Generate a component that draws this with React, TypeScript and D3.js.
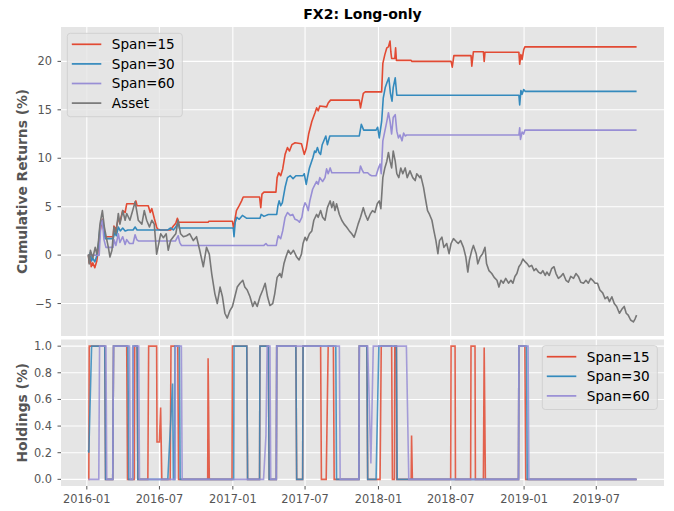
import React from "react";
import * as d3 from "d3";

type Pt = [string, number];

// cumulative returns (%)
const assetReturns: Pt[] = [
  ["2016-01-05", 0.1], ["2016-01-07", -0.9], ["2016-01-10", 0.5], ["2016-01-16", -0.3],
  ["2016-01-22", 0.8], ["2016-01-26", 0.1], ["2016-01-30", 1.35], ["2016-02-03", 3.2],
  ["2016-02-09", 4.6], ["2016-02-14", 2.9], ["2016-02-18", 2.0], ["2016-02-24", 0.8],
  ["2016-02-28", -0.2], ["2016-03-04", 0.5], ["2016-03-09", 2.9], ["2016-03-14", 2.2],
  ["2016-03-20", 4.3], ["2016-03-24", 3.2], ["2016-03-31", 4.6], ["2016-04-06", 3.6],
  ["2016-04-10", 4.3], ["2016-04-18", 3.6], ["2016-04-25", 4.6], ["2016-05-01", 5.5],
  ["2016-05-05", 4.6], ["2016-05-09", 3.6], ["2016-05-18", 3.2], ["2016-05-24", 4.6],
  ["2016-05-30", 3.6], ["2016-06-06", 2.9], ["2016-06-12", 3.6], ["2016-06-18", 3.2],
  ["2016-06-24", 0.1], ["2016-06-29", 1.1], ["2016-07-04", 2.2], ["2016-07-11", 1.8],
  ["2016-07-18", 2.2], ["2016-07-23", 0.5], ["2016-07-29", 1.5], ["2016-08-05", 1.9],
  ["2016-08-11", 2.2], ["2016-08-17", 3.6], ["2016-08-23", 2.2], ["2016-08-30", 1.9],
  ["2016-09-07", 2.0], ["2016-09-15", 2.2], ["2016-09-24", 1.5], ["2016-10-02", 1.9],
  ["2016-10-10", 0.5], ["2016-10-19", -1.2], ["2016-10-27", 0.8], ["2016-11-03", 0.1],
  ["2016-11-09", -1.9], ["2016-11-17", -4.0], ["2016-11-23", -5.0], ["2016-11-30", -3.3],
  ["2016-12-06", -4.3], ["2016-12-12", -6.0], ["2016-12-18", -6.5], ["2016-12-25", -5.7],
  ["2016-12-31", -5.3], ["2017-01-06", -4.3], ["2017-01-12", -3.3], ["2017-01-19", -2.9],
  ["2017-01-26", -2.6], ["2017-01-31", -3.3], ["2017-02-06", -3.6], ["2017-02-13", -4.3],
  ["2017-02-20", -5.3], ["2017-02-25", -4.8], ["2017-03-03", -5.3], ["2017-03-10", -4.3],
  ["2017-03-17", -3.6], ["2017-03-23", -2.9], ["2017-03-29", -4.3], ["2017-04-04", -5.2],
  ["2017-04-11", -5.0], ["2017-04-16", -4.0], ["2017-04-22", -2.3], ["2017-04-29", -1.9],
  ["2017-05-03", -2.3], ["2017-05-09", -0.9], ["2017-05-14", -0.2], ["2017-05-20", 0.5],
  ["2017-05-26", 0.1], ["2017-06-02", 0.5], ["2017-06-10", -0.2], ["2017-06-16", -0.5],
  ["2017-06-22", 0.1], ["2017-06-26", 1.2], ["2017-07-01", 1.85], ["2017-07-05", 1.5],
  ["2017-07-12", 2.2], ["2017-07-18", 2.5], ["2017-07-23", 3.6], ["2017-07-30", 4.2],
  ["2017-08-03", 3.9], ["2017-08-09", 4.6], ["2017-08-14", 3.9], ["2017-08-20", 3.6],
  ["2017-08-26", 4.9], ["2017-09-02", 5.6], ["2017-09-06", 4.9], ["2017-09-10", 5.5],
  ["2017-09-14", 4.6], ["2017-09-18", 5.3], ["2017-09-25", 4.2], ["2017-10-01", 3.6],
  ["2017-10-07", 3.2], ["2017-10-13", 2.9], ["2017-10-20", 2.5], ["2017-10-26", 2.2],
  ["2017-11-01", 1.85], ["2017-11-06", 2.5], ["2017-11-11", 3.2], ["2017-11-17", 3.9],
  ["2017-11-24", 4.9], ["2017-11-29", 4.2], ["2017-12-05", 3.6], ["2017-12-11", 4.2],
  ["2017-12-17", 4.6], ["2017-12-23", 4.4], ["2017-12-29", 5.3], ["2018-01-03", 5.6],
  ["2018-01-07", 4.8], ["2018-01-12", 8.0], ["2018-01-17", 9.0], ["2018-01-22", 9.7],
  ["2018-01-26", 10.6], ["2018-01-30", 9.7], ["2018-02-03", 9.0], ["2018-02-07", 10.75],
  ["2018-02-12", 9.7], ["2018-02-16", 8.4], ["2018-02-21", 8.0], ["2018-02-26", 9.0],
  ["2018-03-03", 8.4], ["2018-03-09", 9.0], ["2018-03-14", 8.0], ["2018-03-21", 8.7],
  ["2018-03-28", 8.0], ["2018-04-03", 7.7], ["2018-04-07", 8.4], ["2018-04-15", 8.0],
  ["2018-04-17", 8.2], ["2018-04-24", 7.0], ["2018-04-28", 6.0], ["2018-05-04", 4.6],
  ["2018-05-09", 4.2], ["2018-05-15", 3.6], ["2018-05-20", 2.5], ["2018-05-25", 1.5],
  ["2018-05-30", 0.15], ["2018-06-03", 1.5], ["2018-06-09", 1.85], ["2018-06-14", 0.8],
  ["2018-06-21", 1.2], ["2018-06-27", 0.15], ["2018-07-02", 1.2], ["2018-07-08", 1.7],
  ["2018-07-15", 1.4], ["2018-07-20", 1.2], ["2018-07-26", 1.5], ["2018-08-02", 0.8],
  ["2018-08-08", -0.2], ["2018-08-13", -1.75], ["2018-08-17", -0.5], ["2018-08-23", 0.5],
  ["2018-08-27", 1.0], ["2018-09-03", 0.15], ["2018-09-07", -0.9], ["2018-09-13", -0.2],
  ["2018-09-19", 0.15], ["2018-09-25", 0.8], ["2018-09-29", -0.9], ["2018-10-05", -1.6],
  ["2018-10-12", -1.9], ["2018-10-18", -2.3], ["2018-10-25", -2.6], ["2018-10-30", -3.3],
  ["2018-11-04", -2.6], ["2018-11-10", -2.9], ["2018-11-16", -2.4], ["2018-11-23", -2.9],
  ["2018-11-29", -2.6], ["2018-12-04", -2.9], ["2018-12-09", -2.2], ["2018-12-14", -1.9],
  ["2018-12-19", -1.2], ["2018-12-24", -0.9], ["2018-12-29", -0.4], ["2019-01-04", -0.7],
  ["2019-01-09", -0.9], ["2019-01-14", -1.2], ["2019-01-20", -1.06], ["2019-01-26", -1.6],
  ["2019-01-31", -1.4], ["2019-02-06", -1.75], ["2019-02-12", -1.9], ["2019-02-17", -1.6],
  ["2019-02-23", -2.1], ["2019-02-27", -1.75], ["2019-03-05", -2.1], ["2019-03-11", -1.4],
  ["2019-03-17", -1.2], ["2019-03-22", -1.9], ["2019-03-28", -2.4], ["2019-04-03", -2.2],
  ["2019-04-09", -1.9], ["2019-04-16", -2.6], ["2019-04-22", -2.8], ["2019-04-28", -2.2],
  ["2019-05-05", -2.4], ["2019-05-11", -1.9], ["2019-05-17", -2.2], ["2019-05-23", -2.8],
  ["2019-05-30", -2.9], ["2019-06-05", -2.6], ["2019-06-11", -2.9], ["2019-06-17", -2.4],
  ["2019-06-22", -2.6], ["2019-06-28", -2.9], ["2019-07-04", -2.9], ["2019-07-10", -3.6],
  ["2019-07-17", -3.9], ["2019-07-23", -4.5], ["2019-07-29", -4.3], ["2019-08-03", -4.8],
  ["2019-08-09", -4.3], ["2019-08-15", -5.0], ["2019-08-21", -5.3], ["2019-08-28", -6.0],
  ["2019-09-03", -5.6], ["2019-09-09", -5.3], ["2019-09-14", -6.0], ["2019-09-19", -6.2],
  ["2019-09-25", -6.7], ["2019-10-02", -6.9], ["2019-10-06", -6.6], ["2019-10-10", -6.2],
];

const span15Returns: Pt[] = [
  ["2016-01-05", 0], ["2016-01-07", -0.8], ["2016-01-10", -0.4], ["2016-01-12", -1.2],
  ["2016-01-16", -0.8], ["2016-01-21", -1.3], ["2016-01-26", -0.6], ["2016-01-30", 0.6],
  ["2016-02-03", 2.4], ["2016-02-09", 3.7], ["2016-02-14", 2.2], ["2016-02-17", 1.9],
  ["2016-03-07", 1.9], ["2016-03-09", 3.0], ["2016-03-14", 2.6], ["2016-03-20", 3.8],
  ["2016-03-24", 3.4], ["2016-03-31", 4.6], ["2016-04-06", 4.4], ["2016-04-10", 5.3],
  ["2016-04-30", 5.3], ["2016-05-03", 5.6], ["2016-05-06", 5.1], ["2016-06-03", 5.1],
  ["2016-06-08", 4.4], ["2016-06-12", 4.8], ["2016-06-18", 3.8], ["2016-06-24", 2.9],
  ["2016-06-26", 2.7], ["2016-07-04", 2.6], ["2016-07-29", 2.6], ["2016-08-05", 3.0],
  ["2016-08-11", 3.3], ["2016-08-15", 3.8], ["2016-08-18", 3.4], ["2016-10-31", 3.4],
  ["2016-11-02", 3.5], ["2016-12-31", 3.5], ["2017-01-03", 2.7], ["2017-01-06", 3.6],
  ["2017-01-10", 4.6], ["2017-01-17", 5.1], ["2017-01-23", 5.6], ["2017-01-27", 6.0],
  ["2017-03-09", 6.0], ["2017-03-12", 4.9], ["2017-03-15", 6.3], ["2017-03-20", 6.5],
  ["2017-04-19", 6.5], ["2017-04-22", 8.0], ["2017-04-26", 8.5], ["2017-05-01", 8.2],
  ["2017-05-06", 8.9], ["2017-05-12", 10.4], ["2017-05-18", 11.1], ["2017-05-23", 10.75],
  ["2017-05-29", 11.4], ["2017-06-06", 11.6], ["2017-06-22", 11.5], ["2017-06-29", 10.4],
  ["2017-07-04", 11.0], ["2017-07-10", 12.5], ["2017-07-18", 13.8], ["2017-07-26", 14.7],
  ["2017-07-30", 15.2], ["2017-08-03", 14.9], ["2017-08-07", 15.4], ["2017-08-24", 15.3],
  ["2017-08-28", 15.7], ["2017-09-03", 16.0], ["2017-11-14", 16.0], ["2017-11-17", 15.2],
  ["2017-11-24", 16.7], ["2017-11-29", 16.85], ["2018-01-09", 16.85], ["2018-01-12", 19.8],
  ["2018-01-17", 20.7], ["2018-01-22", 21.4], ["2018-01-26", 21.5], ["2018-01-30", 22.1],
  ["2018-02-01", 21.0], ["2018-02-03", 20.3], ["2018-02-11", 20.3], ["2018-02-13", 21.4],
  ["2018-02-15", 20.1], ["2018-03-24", 20.1], ["2018-03-26", 20.0], ["2018-07-02", 20.0],
  ["2018-07-05", 19.4], ["2018-07-09", 20.6], ["2018-08-21", 20.6], ["2018-08-23", 19.5],
  ["2018-08-27", 21.0], ["2018-09-21", 21.0], ["2018-09-23", 20.0], ["2018-09-25", 20.95],
  ["2018-12-19", 20.95], ["2018-12-21", 19.7], ["2018-12-24", 20.7], ["2018-12-27", 20.2],
  ["2018-12-31", 21.2], ["2019-01-03", 21.5], ["2019-10-10", 21.5],
];

const span30Returns: Pt[] = [
  ["2016-01-05", 0], ["2016-01-07", -0.4], ["2016-01-10", 0.3], ["2016-01-13", -0.6],
  ["2016-01-16", -0.3], ["2016-01-21", -0.7], ["2016-01-26", -0.1], ["2016-01-30", 1.0],
  ["2016-02-03", 2.9], ["2016-02-09", 3.6], ["2016-02-14", 2.2], ["2016-02-16", 1.7],
  ["2016-03-07", 1.7], ["2016-03-11", 2.3], ["2016-03-15", 2.0], ["2016-03-20", 2.9],
  ["2016-03-25", 2.5], ["2016-03-31", 2.8], ["2016-04-06", 2.5], ["2016-04-13", 2.6],
  ["2016-04-26", 2.6], ["2016-05-01", 2.9], ["2016-05-06", 2.6], ["2016-07-22", 2.6],
  ["2016-07-29", 2.8], ["2016-08-05", 2.6], ["2016-08-11", 2.9], ["2016-08-17", 3.4],
  ["2016-08-20", 2.8], ["2017-01-02", 2.8], ["2017-01-04", 1.9], ["2017-01-07", 3.4],
  ["2017-01-11", 3.9], ["2017-01-17", 3.7], ["2017-01-25", 4.1], ["2017-02-05", 3.8],
  ["2017-03-10", 3.8], ["2017-03-13", 4.2], ["2017-03-20", 4.0], ["2017-03-31", 4.2],
  ["2017-04-21", 4.2], ["2017-04-24", 5.1], ["2017-04-27", 5.6], ["2017-05-01", 5.1],
  ["2017-05-05", 5.4], ["2017-05-12", 7.0], ["2017-05-18", 8.0], ["2017-05-25", 8.2],
  ["2017-06-01", 7.9], ["2017-06-08", 8.2], ["2017-06-26", 8.2], ["2017-06-29", 8.4],
  ["2017-07-04", 7.3], ["2017-07-07", 8.0], ["2017-07-12", 9.0], ["2017-07-21", 10.1],
  ["2017-07-25", 10.75], ["2017-07-28", 10.6], ["2017-08-01", 11.1], ["2017-08-05", 10.6],
  ["2017-08-09", 10.4], ["2017-08-13", 11.4], ["2017-08-22", 12.3], ["2017-08-26", 11.4],
  ["2017-09-01", 12.3], ["2017-11-14", 12.3], ["2017-11-19", 13.5], ["2017-11-25", 12.9],
  ["2017-12-26", 12.9], ["2017-12-30", 13.2], ["2018-01-03", 12.1], ["2018-01-09", 13.8],
  ["2018-01-13", 16.2], ["2018-01-18", 17.3], ["2018-01-23", 17.9], ["2018-01-27", 18.3],
  ["2018-01-31", 16.7], ["2018-02-04", 15.9], ["2018-02-07", 17.3], ["2018-02-12", 18.3],
  ["2018-02-16", 16.5], ["2018-12-19", 16.5], ["2018-12-21", 15.5], ["2018-12-24", 17.0],
  ["2018-12-27", 16.6], ["2018-12-31", 17.1], ["2019-01-04", 16.9], ["2019-10-10", 16.9],
];

const span60Returns: Pt[] = [
  ["2016-01-05", 0], ["2016-02-01", 0], ["2016-02-03", 1.6], ["2016-02-05", 3.1],
  ["2016-02-09", 3.6], ["2016-02-13", 1.6], ["2016-02-18", 0.8], ["2016-03-07", 0.8],
  ["2016-03-09", 1.6], ["2016-03-14", 1.0], ["2016-03-20", 2.2], ["2016-03-24", 1.3],
  ["2016-03-31", 1.9], ["2016-04-06", 1.1], ["2016-04-10", 1.6], ["2016-04-17", 1.2],
  ["2016-04-26", 1.2], ["2016-05-01", 2.1], ["2016-05-05", 1.6], ["2016-05-10", 1.45],
  ["2016-08-10", 1.45], ["2016-08-17", 2.0], ["2016-08-21", 1.3], ["2016-08-25", 1.0],
  ["2017-03-20", 1.0], ["2017-03-25", 1.2], ["2017-03-29", 1.0], ["2017-04-20", 1.0],
  ["2017-04-22", 1.5], ["2017-04-25", 2.0], ["2017-05-01", 1.7], ["2017-05-06", 2.5],
  ["2017-05-12", 3.9], ["2017-05-18", 4.4], ["2017-05-25", 4.1], ["2017-05-31", 4.2],
  ["2017-06-06", 3.7], ["2017-06-12", 3.6], ["2017-06-17", 3.4], ["2017-06-23", 3.9],
  ["2017-06-27", 4.9], ["2017-07-01", 5.4], ["2017-07-05", 5.1], ["2017-07-09", 4.6],
  ["2017-07-13", 5.6], ["2017-07-20", 6.8], ["2017-07-26", 7.3], ["2017-07-30", 7.6],
  ["2017-08-03", 7.3], ["2017-08-07", 8.0], ["2017-08-14", 7.6], ["2017-08-20", 8.0],
  ["2017-08-24", 8.9], ["2017-08-28", 8.4], ["2017-09-02", 9.0], ["2017-09-06", 8.5],
  ["2017-11-14", 8.5], ["2017-11-17", 9.2], ["2017-11-21", 8.8], ["2017-11-25", 8.5],
  ["2017-12-05", 8.5], ["2017-12-10", 8.3], ["2017-12-15", 8.2], ["2017-12-26", 8.2],
  ["2018-01-01", 9.0], ["2018-01-05", 9.4], ["2018-01-08", 8.4], ["2018-01-12", 11.8],
  ["2018-01-17", 12.8], ["2018-01-22", 13.8], ["2018-01-26", 14.7], ["2018-01-30", 13.8],
  ["2018-02-03", 12.5], ["2018-02-07", 14.2], ["2018-02-12", 14.5], ["2018-02-16", 12.8],
  ["2018-02-20", 12.1], ["2018-02-24", 12.4], ["2018-03-01", 11.8], ["2018-03-05", 12.6],
  ["2018-03-09", 12.3], ["2018-03-13", 12.4], ["2018-12-19", 12.4], ["2018-12-21", 13.15],
  ["2018-12-23", 11.95], ["2018-12-27", 12.7], ["2018-12-31", 12.5], ["2019-01-03", 12.9],
  ["2019-10-10", 12.9],
];

// holdings (fraction of capital) at the turning points
const span15Holdings: Pt[] = [
  ["2016-01-05", 0], ["2016-01-06", 0], ["2016-01-07", 1], ["2016-02-15", 1], ["2016-02-17", 0],
  ["2016-03-06", 0], ["2016-03-08", 1], ["2016-04-10", 1], ["2016-04-12", 0], ["2016-04-29", 0],
  ["2016-04-30", 1], ["2016-05-06", 1], ["2016-05-08", 0], ["2016-06-02", 0], ["2016-06-04", 1],
  ["2016-06-24", 1], ["2016-06-25", 0.28], ["2016-07-01", 0.28], ["2016-07-04", 0.54],
  ["2016-07-07", 0], ["2016-07-28", 0], ["2016-07-30", 1], ["2016-08-16", 1], ["2016-08-18", 0],
  ["2016-10-30", 0], ["2016-10-31", 0.91], ["2016-11-03", 0], ["2016-12-30", 0], ["2016-12-31", 1],
  ["2017-02-05", 1], ["2017-02-07", 0], ["2017-03-09", 0], ["2017-03-10", 1], ["2017-03-31", 1],
  ["2017-04-02", 0], ["2017-04-20", 0], ["2017-04-21", 1], ["2017-06-08", 1], ["2017-06-10", 0],
  ["2017-06-25", 0], ["2017-06-26", 1], ["2017-08-09", 1], ["2017-08-11", 0], ["2017-08-23", 0],
  ["2017-08-28", 1], ["2017-09-10", 1], ["2017-09-12", 0], ["2017-11-13", 0], ["2017-11-14", 1],
  ["2017-12-03", 1], ["2017-12-05", 0], ["2018-01-05", 0], ["2018-01-08", 1], ["2018-02-03", 1],
  ["2018-02-05", 0], ["2018-02-10", 0], ["2018-02-11", 1], ["2018-02-15", 1], ["2018-02-16", 0],
  ["2018-03-24", 0], ["2018-03-25", 0.33], ["2018-03-27", 0], ["2018-07-01", 0], ["2018-07-02", 1],
  ["2018-07-12", 1], ["2018-07-13", 0], ["2018-08-20", 0], ["2018-08-21", 1], ["2018-08-31", 1],
  ["2018-09-01", 0], ["2018-09-21", 0], ["2018-09-23", 0.99], ["2018-09-26", 0], ["2018-12-18", 0],
  ["2018-12-19", 1], ["2019-01-03", 1], ["2019-01-05", 0], ["2019-10-10", 0],
];

const span30Holdings: Pt[] = [
  ["2016-01-05", 0.22], ["2016-01-06", 0.2], ["2016-01-13", 1], ["2016-02-15", 1], ["2016-02-17", 0],
  ["2016-03-06", 0], ["2016-03-08", 1], ["2016-04-13", 1], ["2016-04-15", 0], ["2016-04-25", 0],
  ["2016-04-26", 1], ["2016-05-06", 1], ["2016-05-08", 0], ["2016-07-22", 0], ["2016-08-03", 0.72],
  ["2016-08-05", 0], ["2016-08-08", 0], ["2016-08-09", 1], ["2016-08-20", 1], ["2016-08-22", 0],
  ["2017-01-03", 0], ["2017-01-04", 1], ["2017-02-05", 1], ["2017-02-07", 0], ["2017-03-09", 0],
  ["2017-03-10", 1], ["2017-03-31", 1], ["2017-04-02", 0], ["2017-04-20", 0], ["2017-04-21", 1],
  ["2017-06-08", 1], ["2017-06-10", 0], ["2017-06-25", 0], ["2017-06-26", 1], ["2017-09-16", 1],
  ["2017-09-18", 0], ["2017-11-13", 0], ["2017-11-14", 1], ["2017-12-03", 1], ["2017-12-05", 0],
  ["2017-12-26", 0], ["2018-01-02", 1], ["2018-02-15", 1], ["2018-02-17", 0], ["2018-12-18", 0],
  ["2018-12-19", 1], ["2019-01-07", 1], ["2019-01-09", 0], ["2019-10-10", 0],
];

const span60Holdings: Pt[] = [
  ["2016-01-05", 0], ["2016-01-31", 0], ["2016-02-02", 1], ["2016-02-18", 1], ["2016-02-20", 0],
  ["2016-03-06", 0], ["2016-03-08", 1], ["2016-04-17", 1], ["2016-04-19", 0], ["2016-04-25", 0],
  ["2016-04-26", 1], ["2016-05-10", 1], ["2016-05-12", 0], ["2016-08-09", 0], ["2016-08-10", 1],
  ["2016-08-25", 1], ["2016-08-27", 0], ["2017-03-19", 0], ["2017-03-25", 0.33], ["2017-03-28", 1],
  ["2017-04-04", 1], ["2017-04-06", 0], ["2017-04-20", 0], ["2017-04-21", 1], ["2017-09-25", 1],
  ["2017-09-27", 0], ["2017-11-13", 0], ["2017-11-14", 1], ["2017-12-05", 1], ["2017-12-13", 0.12],
  ["2017-12-19", 1], ["2018-03-12", 1], ["2018-03-18", 0], ["2018-12-18", 0], ["2018-12-19", 1],
  ["2019-01-11", 1], ["2019-01-13", 0], ["2019-10-10", 0],
];

const returnTicks = [-5, 0, 5, 10, 15, 20];
const holdingTicks = [0, 0.2, 0.4, 0.6, 0.8, 1.0];
const dateTicks = [
  "2016-01-01", "2016-07-01", "2017-01-01", "2017-07-01",
  "2018-01-01", "2018-07-01", "2019-01-01", "2019-07-01",
];

const parseDate = d3.timeParse("%Y-%m-%d");
const fmtDate = d3.timeFormat("%Y-%m");
const toPoints = (s: Pt[]) => s.map(([d, v]) => ({ date: parseDate(d) as Date, value: v }));

const RED = "#E24A33";
const BLUE = "#348ABD";
const PURPLE = "#988ED5";
const GRAY = "#777777";
const FONT = "DejaVu Sans, sans-serif";

type Series = { name: string; color: string; data: { date: Date; value: number }[] };

const Legend = ({ x, y, items }: { x: number; y: number; items: Series[] }) => {
  const rowH = 19.6;
  const w = 115;
  const h = items.length * rowH + 5;
  return (
    <g transform={`translate(${x},${y})`}>
      <rect width={w} height={h} rx={3} fill="#E5E5E5" fillOpacity={0.8} stroke="#CCCCCC" strokeOpacity={0.8} />
      {items.map((s, i) => (
        <g key={s.name} transform={`translate(0,${11 + i * rowH})`}>
          <line x1={4.5} x2={34} stroke={s.color} strokeWidth={1.7} />
          <text x={44.5} y={4.8} fontSize={13.6} fontFamily={FONT} fill="#000">
            {s.name}
          </text>
        </g>
      ))}
    </g>
  );
};

export default function App() {
  const W = 674;
  const H = 511;
  const left = 61;
  const right = 664;
  const top = { y0: 27, y1: 336 };
  const bot = { y0: 339.5, y1: 486 };

  const returns: Series[] = [
    { name: "Span=15", color: RED, data: toPoints(span15Returns) },
    { name: "Span=30", color: BLUE, data: toPoints(span30Returns) },
    { name: "Span=60", color: PURPLE, data: toPoints(span60Returns) },
    { name: "Asset", color: GRAY, data: toPoints(assetReturns) },
  ];
  const holdings: Series[] = [
    { name: "Span=15", color: RED, data: toPoints(span15Holdings) },
    { name: "Span=30", color: BLUE, data: toPoints(span30Holdings) },
    { name: "Span=60", color: PURPLE, data: toPoints(span60Holdings) },
  ];

  // matplotlib-style 5% margins on the data extent
  const allRet = returns.flatMap((s) => s.data);
  const allHold = holdings.flatMap((s) => s.data);
  const [t0, t1] = d3.extent(allRet, (d) => +d.date) as [number, number];
  const tPad = (t1 - t0) * 0.05;
  const x = d3.scaleTime().domain([new Date(t0 - tPad), new Date(t1 + tPad)]).range([left, right]);

  const [r0, r1] = d3.extent(allRet, (d) => d.value) as [number, number];
  const rPad = (r1 - r0) * 0.05;
  const yTop = d3.scaleLinear().domain([r0 - rPad, r1 + rPad]).range([top.y1, top.y0]);

  const [h0, h1] = d3.extent(allHold, (d) => d.value) as [number, number];
  const hPad = (h1 - h0) * 0.05;
  const yBot = d3.scaleLinear().domain([h0 - hPad, h1 + hPad]).range([bot.y1, bot.y0]);

  const lineTop = d3.line<{ date: Date; value: number }>().x((d) => x(d.date)).y((d) => yTop(d.value));
  const lineBot = d3.line<{ date: Date; value: number }>().x((d) => x(d.date)).y((d) => yBot(d.value));

  const tickDates = dateTicks.map((d) => parseDate(d) as Date);
  const tickColor = "#555555";
  const tickSize = 11.4;

  return (
    <svg
      width={W}
      height={H}
      style={{ position: "absolute", left: 0, top: 0, background: "#fff" }}
    >
      <defs>
        <clipPath id="clipTop">
          <rect x={left} y={top.y0} width={right - left} height={top.y1 - top.y0} />
        </clipPath>
        <clipPath id="clipBot">
          <rect x={left} y={bot.y0} width={right - left} height={bot.y1 - bot.y0} />
        </clipPath>
      </defs>

      <text x={(left + right) / 2} y={18.5} textAnchor="middle" fontFamily={FONT} fontWeight="bold" fontSize={14}>
        FX2: Long-only
      </text>

      {/* top panel */}
      <rect x={left} y={top.y0} width={right - left} height={top.y1 - top.y0} fill="#E5E5E5" />
      {tickDates.map((d, i) => (
        <line key={i} x1={x(d)} x2={x(d)} y1={top.y0} y2={top.y1} stroke="#fff" strokeWidth={1.1} />
      ))}
      {returnTicks.map((v) => (
        <g key={v}>
          <line x1={left} x2={right} y1={yTop(v)} y2={yTop(v)} stroke="#fff" strokeWidth={1.1} />
          <line x1={57.5} x2={left} y1={yTop(v)} y2={yTop(v)} stroke={tickColor} strokeWidth={1} />
          <text x={52} y={yTop(v) + 4} textAnchor="end" fontSize={tickSize} fontFamily={FONT} fill={tickColor}>
            {v < 0 ? `\u2212${Math.abs(v)}` : v}
          </text>
        </g>
      ))}
      <g clipPath="url(#clipTop)">
        {returns.map((s) => (
          <path key={s.name} d={lineTop(s.data) || ""} fill="none" stroke={s.color} strokeWidth={1.6} strokeLinejoin="round" />
        ))}
      </g>
      <Legend x={67.3} y={33.3} items={returns} />
      <text
        transform={`translate(26.5,${(top.y0 + top.y1) / 2}) rotate(-90)`}
        textAnchor="middle"
        fontFamily={FONT}
        fontWeight="bold"
        fontSize={13.8}
        fill="#555555"
      >
        Cumulative Returns (%)
      </text>

      {/* bottom panel */}
      <rect x={left} y={bot.y0} width={right - left} height={bot.y1 - bot.y0} fill="#E5E5E5" />
      {tickDates.map((d, i) => (
        <g key={i}>
          <line x1={x(d)} x2={x(d)} y1={bot.y0} y2={bot.y1} stroke="#fff" strokeWidth={1.1} />
          <line x1={x(d)} x2={x(d)} y1={bot.y1} y2={bot.y1 + 3.5} stroke={tickColor} strokeWidth={1} />
          <text x={x(d)} y={503} textAnchor="middle" fontSize={tickSize} fontFamily={FONT} fill={tickColor}>
            {fmtDate(d)}
          </text>
        </g>
      ))}
      {holdingTicks.map((v) => (
        <g key={v}>
          <line x1={left} x2={right} y1={yBot(v)} y2={yBot(v)} stroke="#fff" strokeWidth={1.1} />
          <line x1={57.5} x2={left} y1={yBot(v)} y2={yBot(v)} stroke={tickColor} strokeWidth={1} />
          <text x={52} y={yBot(v) + 4} textAnchor="end" fontSize={tickSize} fontFamily={FONT} fill={tickColor}>
            {v.toFixed(1)}
          </text>
        </g>
      ))}
      <g clipPath="url(#clipBot)">
        {holdings.map((s) => (
          <path key={s.name} d={lineBot(s.data) || ""} fill="none" stroke={s.color} strokeWidth={1.6} strokeOpacity={0.85} />
        ))}
      </g>
      <Legend x={542.3} y={345.7} items={holdings} />
      <text
        transform={`translate(26.5,${(bot.y0 + bot.y1) / 2}) rotate(-90)`}
        textAnchor="middle"
        fontFamily={FONT}
        fontWeight="bold"
        fontSize={13.8}
        fill="#555555"
      >
        Holdings (%)
      </text>
    </svg>
  );
}
